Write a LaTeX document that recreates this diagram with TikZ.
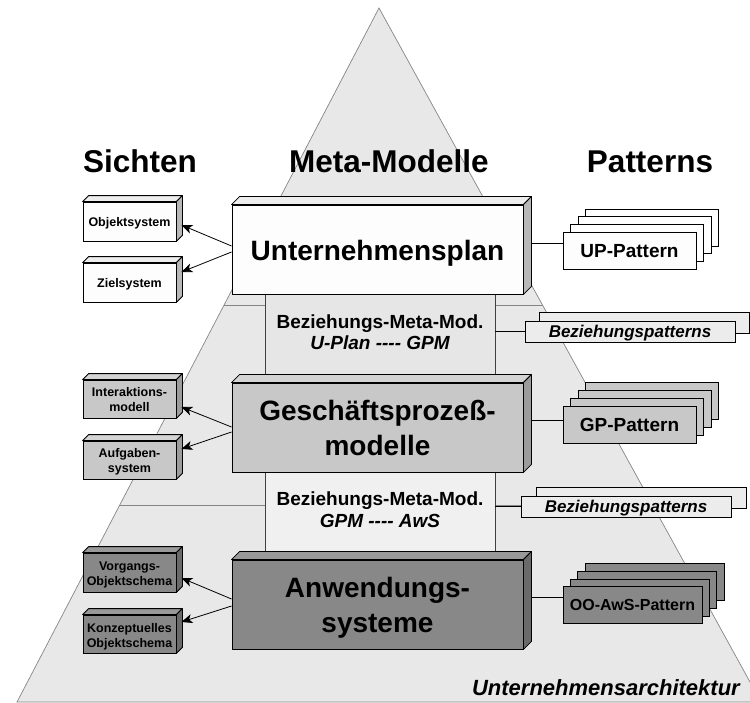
\documentclass[tikz,border=0pt]{standalone}
\usepackage{fontspec}
\setmainfont{Liberation Sans}[Ligatures=TeXReset]
\usetikzlibrary{arrows.meta}
\definecolor{pyr}{HTML}{E8E8E8}
\definecolor{pyrline}{HTML}{858585}
\definecolor{wfront}{HTML}{FDFDFD}
\definecolor{wtop}{HTML}{EDEDED}
\definecolor{wside}{HTML}{B8B8B8}
\definecolor{mfront}{HTML}{C8C8C8}
\definecolor{mtop}{HTML}{D4D4D4}
\definecolor{mside}{HTML}{9C9C9C}
\definecolor{dfront}{HTML}{888888}
\definecolor{dtop}{HTML}{999999}
\definecolor{dside}{HTML}{6A6A6A}
\definecolor{bzfillA}{HTML}{E6E6E6}
\definecolor{bzfillB}{HTML}{F0F0F0}
\definecolor{bpfill}{HTML}{ECECEC}
\newcommand\fsz[2]{\fontsize{#1}{#2}\selectfont}
\newcommand\boxfaces[4]{%
  \filldraw[faceline,fill=#3] (#1.north west) -- ++(#2,-#2) -- ([shift={(#2pt,#2pt)}]#1.north east) -- (#1.north east) -- cycle;
  \filldraw[faceline,fill=#4] (#1.north east) -- ([shift={(#2pt,#2pt)}]#1.north east) -- ([shift={(#2pt,#2pt)}]#1.south east) -- (#1.south east) -- cycle;}
\begin{document}
\begin{tikzpicture}[x=1pt,y=-1pt,font=\bfseries,
  faceline/.style={draw=black,line width=0.8pt,line join=round},
  bigbox/.style={draw=black,line width=0.9pt,inner sep=0pt,minimum width=291pt,minimum height=89pt},
  smallbox/.style={draw=black,line width=0.8pt,inner sep=0pt,minimum width=93pt,minimum height=39pt},
  bzbox/.style={draw=black!75,line width=0.8pt,inner sep=0pt,minimum width=230pt,minimum height=84pt},
  patbox/.style={draw=black,line width=0.8pt,inner sep=0pt,minimum width=133pt,minimum height=37pt,text height=13.6pt,text depth=0pt,font=\bfseries\fsz{19}{22}},
  bpbox/.style={draw=black,line width=0.8pt,inner sep=0pt,minimum width=210pt,minimum height=21pt,fill=bpfill,text height=12pt,text depth=0pt,font=\bfseries\itshape\fsz{17}{20}},
  txt/.style={inner sep=0pt,anchor=base},
  bigtxt/.style={txt,font=\bfseries\fsz{28}{33}},
  smtxt/.style={txt,font=\bfseries\fsz{12.5}{15}},
  bztxt/.style={txt,font=\bfseries\fsz{19}{22}},
  hdr/.style={txt,font=\bfseries\fsz{31.5}{36}},
  arr/.style={-{Stealth[length=11pt,width=9pt,inset=3pt]},line width=0.8pt},
  conn/.style={line width=0.8pt}]
\path[use as bounding box] (0,0) rectangle (750,702);
\clip (0,0) rectangle (750,702);
% pyramid
\filldraw[fill=pyr,draw=pyrline,line width=0.7pt] (379,8) -- (17,702) -- (761,702) -- cycle;
\draw[pyrline,line width=0.7pt] (224.3,305) -- (542.6,305);
\draw[pyrline,line width=0.7pt] (120,505) -- (653,505);
% headers
\node[hdr] (hsi) at (140,172) {Sichten};
\node[hdr] (hmm) at (389,172) {Meta-Modelle};
\node[hdr] (hpa) at (650,172) {Patterns};
% relation boxes
\node[bzbox,fill=bzfillA] (bz1) at (380,333) {};
\node[bzbox,fill=bzfillB] (bz2) at (380,510) {};
\node[bztxt] (bz1a) at (380,328) {Beziehungs-Meta-Mod.};
\node[bztxt,font=\bfseries\itshape\fsz{19}{22}] (bz1b) at (380,349) {U-Plan ---- GPM};
\node[bztxt] (bz2a) at (380,505) {Beziehungs-Meta-Mod.};
\node[bztxt,font=\bfseries\itshape\fsz{19}{22}] (bz2b) at (380,527) {GPM ---- AwS};
% big boxes
\node[bigbox,fill=wfront] (up) at (377.5,249.5) {};
\boxfaces{up}{8}{wtop}{wside}
\node[bigbox,fill=mfront] (gp) at (377.5,427.5) {};
\boxfaces{gp}{8}{mtop}{mside}
\node[bigbox,fill=dfront] (aws) at (377.5,604.5) {};
\boxfaces{aws}{8}{dtop}{dside}
\node[bigtxt] (upt) at (377.5,260) {Unternehmensplan};
\node[bigtxt] (gpta) at (377.5,420) {Geschäftsprozeß-};
\node[bigtxt] (gptb) at (377.5,455) {modelle};
\node[bigtxt] (awsta) at (377.5,597) {Anwendungs-};
\node[bigtxt] (awstb) at (377.5,632) {systeme};
% small boxes
\node[smallbox,fill=wfront] (obj) at (129.5,221.5) {};
\boxfaces{obj}{6}{wtop}{wside}
\node[smallbox,fill=wfront] (ziel) at (129.5,282.5) {};
\boxfaces{ziel}{6}{wtop}{wside}
\node[smallbox,fill=mfront,minimum height=38pt] (inter) at (129.5,399) {};
\boxfaces{inter}{6}{mtop}{mside}
\node[smallbox,fill=mfront,minimum height=38pt] (aufg) at (129.5,460) {};
\boxfaces{aufg}{6}{mtop}{mside}
\node[smallbox,fill=dfront] (vorg) at (129.5,572.5) {};
\boxfaces{vorg}{6}{dtop}{dside}
\node[smallbox,fill=dfront,minimum height=38pt] (konz) at (129.5,634) {};
\boxfaces{konz}{6}{dtop}{dside}
\node[smtxt] (objt) at (129.5,226) {Objektsystem};
\node[smtxt] (zielt) at (129.5,287) {Zielsystem};
\node[smtxt] (intera) at (129.5,396) {Interaktions-};
\node[smtxt] (interb) at (129.5,411) {modell};
\node[smtxt] (aufga) at (129.5,457) {Aufgaben-};
\node[smtxt] (aufgb) at (129.5,472) {system};
\node[smtxt] (vorga) at (129.5,570) {Vorgangs-};
\node[smtxt] (vorgb) at (129.5,585) {Objektschema};
\node[smtxt] (konza) at (129.5,632) {Konzeptuelles};
\node[smtxt] (konzb) at (129.5,647) {Objektschema};
% arrows
\draw[arr] ([yshift=3.5pt]up.west) -- ([xshift=5pt,yshift=-3.5pt]obj.east);
\draw[arr] ([yshift=-2.5pt]up.west) -- ([xshift=5pt,yshift=10.5pt]ziel.east);
\draw[arr] ([yshift=0.5pt]gp.west) -- ([xshift=5pt,yshift=-8pt]inter.east);
\draw[arr] ([yshift=-4.5pt]gp.west) -- ([xshift=5pt,yshift=11pt]aufg.east);
\draw[arr] ([yshift=5.5pt]aws.west) -- ([xshift=5pt,yshift=-5.5pt]vorg.east);
\draw[arr] ([yshift=-1.5pt]aws.west) -- ([xshift=5pt,yshift=12pt]konz.east);
% pattern stacks
\node[patbox,fill=white] (upp3) at (652.3,227.7) {};
\node[patbox,fill=white] (upp2) at (644.7,235.3) {};
\node[patbox,fill=white] (upp1) at (637.1,242.9) {};
\node[patbox,fill=wfront] (upp0) at (629.5,250.5) {UP-Pattern};
\node[patbox,fill=mfront] (gpp3) at (652.3,401) {};
\node[patbox,fill=mfront] (gpp2) at (644.7,409) {};
\node[patbox,fill=mfront] (gpp1) at (637.1,417) {};
\node[patbox,fill=mfront] (gpp0) at (629.5,425) {GP-Pattern};
\node[patbox,fill=dfront,minimum width=139pt] (oop3) at (654.7,582) {};
\node[patbox,fill=dfront,minimum width=139pt] (oop2) at (647.3,589.7) {};
\node[patbox,fill=dfront,minimum width=139pt] (oop1) at (639.9,597.4) {};
\node[patbox,fill=dfront,minimum width=139pt,text height=11.7pt,font=\bfseries\fsz{16}{19}] (oop0) at (632.5,605) {OO-AwS-Pattern};
\node[bpbox] (bp1b) at (644.5,323) {};
\node[bpbox] (bp1) at (630,331.5) {Beziehungspatterns};
\node[bpbox] (bp2b) at (641.5,498) {};
\node[bpbox] (bp2) at (626,506.5) {Beziehungspatterns};
% connectors
\draw[conn] ([xshift=8pt,yshift=6.5pt]up.east) coordinate (s1) -- (s1 -| upp0.west);
\draw[conn] ([xshift=8pt,yshift=7.5pt]gp.east) coordinate (s2) -- (s2 -| gpp0.west);
\draw[conn] ([xshift=8pt,yshift=7.5pt]aws.east) coordinate (s3) -- (s3 -| oop0.west);
\draw[conn] (bz1.east |- bp1.west) -- (bp1.west);
\draw[conn] (bz2.east |- bp2.west) -- (bp2.west);
% footer
\node[txt,anchor=base east,font=\bfseries\itshape\fsz{22}{26}] (ua) at (740,695) {Unternehmensarchitektur};
\end{tikzpicture}
\end{document}
